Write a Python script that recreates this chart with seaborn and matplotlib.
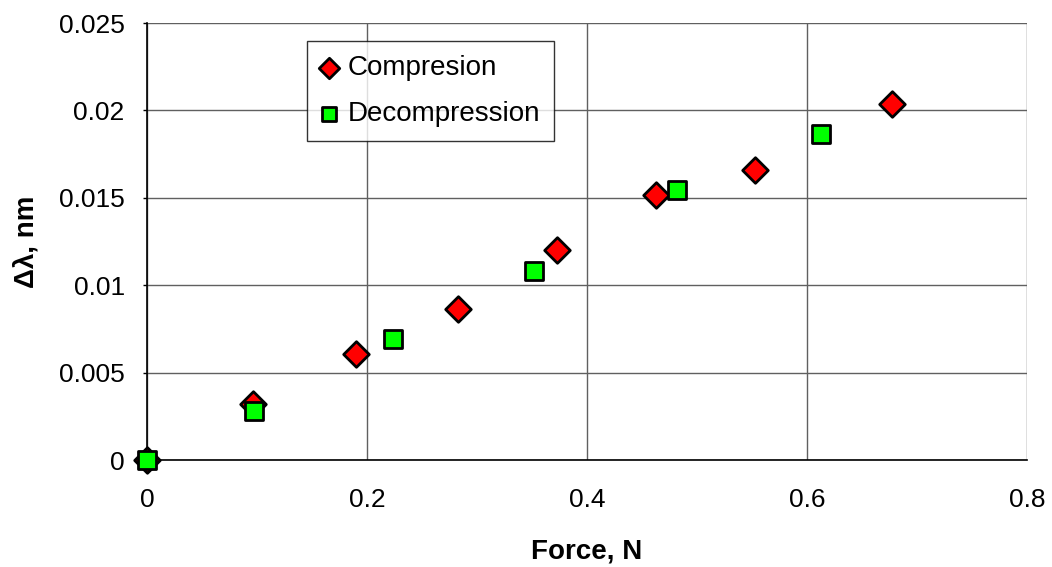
import matplotlib
matplotlib.use("Agg")
import matplotlib.pyplot as plt
import seaborn as sns
import pandas as pd

comp_force = [0.0, 0.096, 0.190, 0.283, 0.373, 0.463, 0.553, 0.677]
comp_dl = [0.0, 0.0032, 0.00606, 0.00864, 0.0120, 0.01516, 0.01659, 0.02037]
decomp_force = [0.0, 0.0975, 0.224, 0.352, 0.482, 0.613]
decomp_dl = [0.0, 0.00282, 0.0069, 0.0108, 0.01545, 0.01863]

xticks = [0, 0.2, 0.4, 0.6, 0.8]
xticklabels = ["0", "0.2", "0.4", "0.6", "0.8"]
yticks = [0, 0.005, 0.01, 0.015, 0.02, 0.025]
yticklabels = ["0", "0.005", "0.01", "0.015", "0.02", "0.025"]

sns.set_style("white")
plt.rcParams['font.family'] = ['Liberation Sans', 'DejaVu Sans']
plt.rcParams['text.color'] = 'black'
plt.rcParams['axes.labelcolor'] = 'black'
plt.rcParams['xtick.color'] = 'black'
plt.rcParams['ytick.color'] = 'black'

fig = plt.figure(figsize=(10.52, 5.67), dpi=100)
ax = fig.add_axes([0.1397, 0.1887, 0.8365, 0.7707])

df_c = pd.DataFrame({"x": comp_force, "y": comp_dl})
df_d = pd.DataFrame({"x": decomp_force, "y": decomp_dl})

sns.scatterplot(data=df_c, x="x", y="y", ax=ax, marker="D", s=170,
                color="#ff0000", edgecolor="black", linewidth=2,
                label="Compresion", zorder=3, clip_on=False)
sns.scatterplot(data=df_d, x="x", y="y", ax=ax, marker="s", s=180,
                color="#00ff00", edgecolor="black", linewidth=2,
                label="Decompression", zorder=4, clip_on=False)

ax.set_xlim(0, 0.8)
ax.set_ylim(0, 0.025)
ax.set_xticks(xticks)
ax.set_xticklabels(xticklabels)
ax.set_yticks(yticks)
ax.set_yticklabels(yticklabels)
ax.tick_params(axis="y", labelsize=19, length=3, width=1, color="black",
               labelcolor="black", direction="out", left=True, pad=13)
ax.tick_params(axis="x", labelsize=19, length=0, pad=20, bottom=True,
               labelcolor="black")
ax.grid(True, color="#606060", linewidth=1)
ax.set_axisbelow(True)
for s in ["top", "right"]:
    ax.spines[s].set_visible(False)
for s in ["left", "bottom"]:
    ax.spines[s].set_color("black")
    ax.spines[s].set_linewidth(1.2)

ax.set_xlabel("Force, N", fontsize=20, fontweight="bold", labelpad=19,
              color="black")
ax.set_ylabel("Δλ, nm", fontsize=20, fontweight="bold", labelpad=14,
              color="black")

leg = ax.legend(loc="upper left", bbox_to_anchor=(0.182, 0.959), fontsize=20,
                frameon=True, fancybox=False, edgecolor="black",
                borderaxespad=0, borderpad=0.5, labelspacing=0.72,
                handletextpad=0.37, handlelength=0.6, markerscale=0.8)
leg.get_frame().set_linewidth(1)
for t in leg.get_texts():
    t.set_color("black")

fig.savefig("out.png", dpi=100, facecolor="white")
